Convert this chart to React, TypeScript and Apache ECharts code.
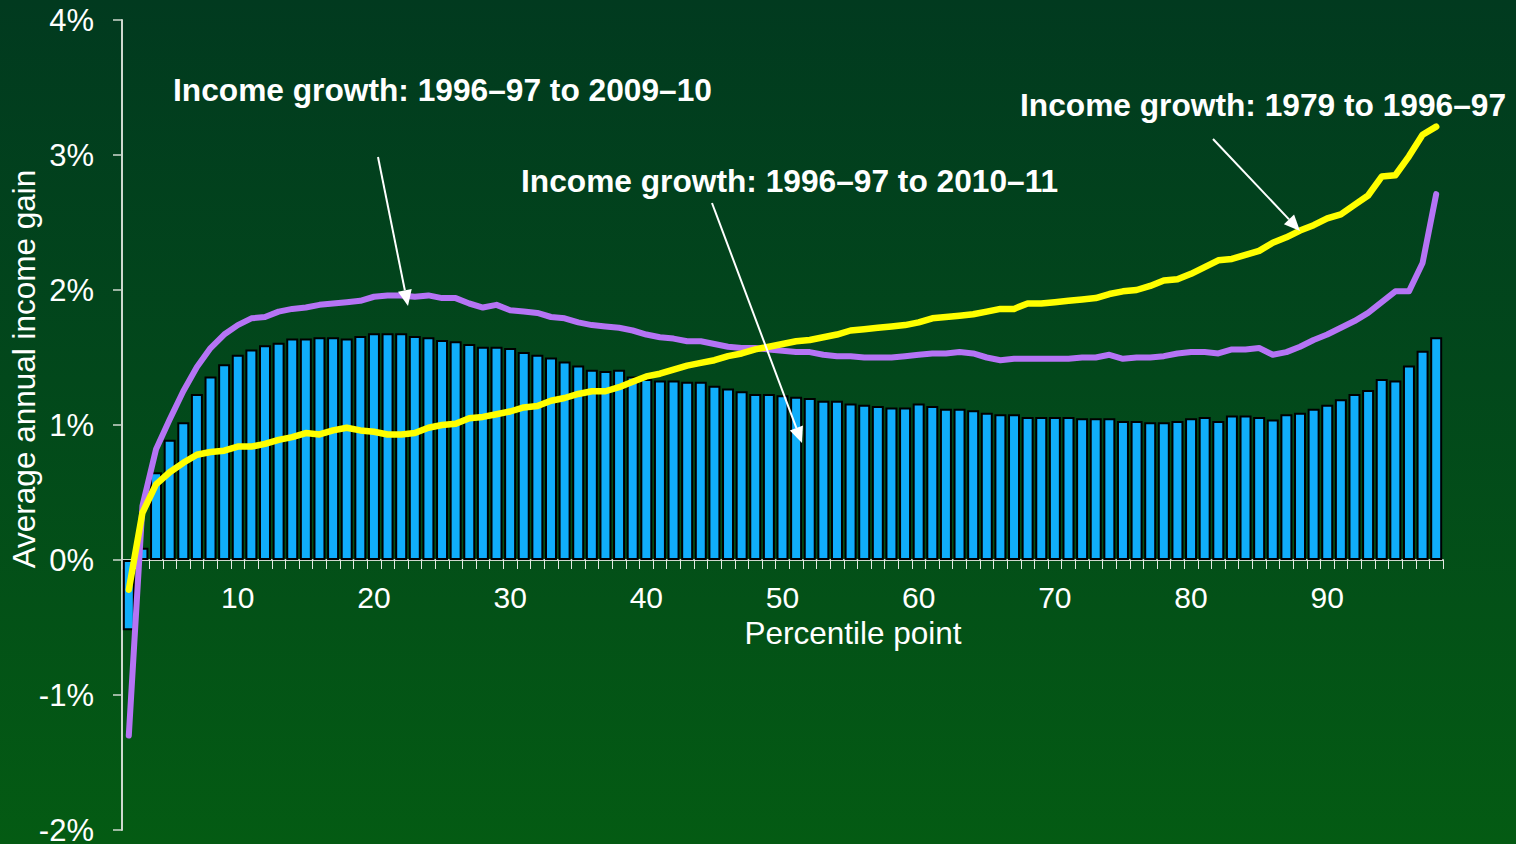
import React, { useEffect, useRef } from "react";
import * as echarts from "echarts";

const percentiles: string[] = [
  "2", "3", "4", "5", "6", "7", "8", "9", "10", "11", "12", "13", "14", "15", "16", "17", "18", "19", "20",
  "21", "22", "23", "24", "25", "26", "27", "28", "29", "30", "31", "32", "33", "34", "35", "36", "37", "38", "39", "40",
  "41", "42", "43", "44", "45", "46", "47", "48", "49", "50", "51", "52", "53", "54", "55", "56", "57", "58", "59", "60",
  "61", "62", "63", "64", "65", "66", "67", "68", "69", "70", "71", "72", "73", "74", "75", "76", "77", "78", "79", "80",
  "81", "82", "83", "84", "85", "86", "87", "88", "89", "90", "91", "92", "93", "94", "95", "96", "97", "98",
];

// Income growth: 1996–97 to 2010–11 (bars)
const growth1997to2011: number[] = [
  -0.52, 0.09, 0.65, 0.89, 1.02, 1.23, 1.36, 1.45, 1.52, 1.56, 1.59, 1.61, 1.64, 1.64, 1.65, 1.65, 1.64, 1.66, 1.68,
  1.68, 1.68, 1.66, 1.65, 1.63, 1.62, 1.60, 1.58, 1.58, 1.57, 1.54, 1.52, 1.50, 1.47, 1.44, 1.41, 1.40, 1.41, 1.36, 1.34,
  1.33, 1.33, 1.32, 1.32, 1.29, 1.27, 1.25, 1.23, 1.23, 1.22, 1.21, 1.20, 1.18, 1.18, 1.16, 1.15, 1.14, 1.13, 1.13, 1.16,
  1.14, 1.12, 1.12, 1.11, 1.09, 1.08, 1.08, 1.06, 1.06, 1.06, 1.06, 1.05, 1.05, 1.05, 1.03, 1.03, 1.02, 1.02, 1.03, 1.05,
  1.06, 1.03, 1.07, 1.07, 1.06, 1.04, 1.08, 1.09, 1.12, 1.15, 1.19, 1.23, 1.26, 1.34, 1.33, 1.44, 1.55, 1.65,
];

// Income growth: 1996–97 to 2009–10 (purple line)
const growth1997to2010: number[] = [
  -1.30, 0.40, 0.82, 1.04, 1.25, 1.43, 1.57, 1.67, 1.74, 1.79, 1.80, 1.84, 1.86, 1.87, 1.89, 1.90, 1.91, 1.92, 1.95,
  1.96, 1.96, 1.95, 1.96, 1.94, 1.94, 1.90, 1.87, 1.89, 1.85, 1.84, 1.83, 1.80, 1.79, 1.76, 1.74, 1.73, 1.72, 1.70, 1.67,
  1.65, 1.64, 1.62, 1.62, 1.60, 1.58, 1.57, 1.57, 1.56, 1.55, 1.54, 1.54, 1.52, 1.51, 1.51, 1.50, 1.50, 1.50, 1.51, 1.52,
  1.53, 1.53, 1.54, 1.53, 1.50, 1.48, 1.49, 1.49, 1.49, 1.49, 1.49, 1.50, 1.50, 1.52, 1.49, 1.50, 1.50, 1.51, 1.53, 1.54,
  1.54, 1.53, 1.56, 1.56, 1.57, 1.52, 1.54, 1.58, 1.63, 1.67, 1.72, 1.77, 1.83, 1.91, 1.99, 1.99, 2.20, 2.71,
];

// Income growth: 1979 to 1996–97 (yellow line)
const growth1979to1997: number[] = [
  -0.22, 0.35, 0.56, 0.65, 0.72, 0.78, 0.80, 0.81, 0.84, 0.84, 0.86, 0.89, 0.91, 0.94, 0.93, 0.96, 0.98, 0.96, 0.95,
  0.93, 0.93, 0.94, 0.98, 1.00, 1.01, 1.05, 1.06, 1.08, 1.10, 1.13, 1.14, 1.18, 1.20, 1.23, 1.25, 1.25, 1.28, 1.32, 1.36,
  1.38, 1.41, 1.44, 1.46, 1.48, 1.51, 1.53, 1.56, 1.58, 1.60, 1.62, 1.63, 1.65, 1.67, 1.70, 1.71, 1.72, 1.73, 1.74, 1.76,
  1.79, 1.80, 1.81, 1.82, 1.84, 1.86, 1.86, 1.90, 1.90, 1.91, 1.92, 1.93, 1.94, 1.97, 1.99, 2.00, 2.03, 2.07, 2.08, 2.12,
  2.17, 2.22, 2.23, 2.26, 2.29, 2.35, 2.39, 2.44, 2.48, 2.53, 2.56, 2.63, 2.70, 2.84, 2.85, 2.99, 3.15, 3.21,
];

const Y_MIN = -2;
const Y_MAX = 4;

const FONT = '"Liberation Sans", Arial, Helvetica, sans-serif';

const GRID_TOP = 20;
const GRID_BOTTOM = 14;
const CHART_H = 844;

function arrow(x1: number, y1: number, x2: number, y2: number): any[] {
  const dx = x2 - x1;
  const dy = y2 - y1;
  const len = Math.sqrt(dx * dx + dy * dy);
  const ux = dx / len;
  const uy = dy / len;
  const L = 16;
  const W = 7;
  const bx = x2 - ux * L;
  const by = y2 - uy * L;
  const nx = -uy;
  const ny = ux;
  return [
    {
      type: "line",
      shape: { x1, y1, x2: bx, y2: by },
      style: { stroke: "#ffffff", lineWidth: 2 },
      z: 100,
    },
    {
      type: "polygon",
      shape: {
        points: [
          [x2, y2],
          [bx + nx * W, by + ny * W],
          [bx - nx * W, by - ny * W],
        ],
      },
      style: { fill: "#ffffff" },
      z: 100,
    },
  ];
}

function label(
  text: string,
  x: number,
  y: number,
  bold: boolean,
  rotation = 0,
  align = "left",
  lineHeight?: number
): any {
  return {
    type: "text",
    x,
    y,
    rotation,
    z: 100,
    style: {
      text,
      fill: "#ffffff",
      font: `${bold ? "bold " : ""}${bold ? 31.7 : 31.5}px ${FONT}`,
      textAlign: align,
      textVerticalAlign: "middle",
      align,
      verticalAlign: "middle",
      ...(lineHeight ? { lineHeight } : {}),
    },
  };
}

export default function App() {
  const ref = useRef<HTMLDivElement>(null);

  useEffect(() => {
    if (!ref.current) return;
    const chart = echarts.init(ref.current, undefined, { renderer: "svg" });
    const axisColor = "#cfd8cf";
    const plotH = CHART_H - GRID_TOP - GRID_BOTTOM;
    // shift the category axis from the grid bottom up to the zero line
    const zeroOffset = -plotH * (0 - Y_MIN) / (Y_MAX - Y_MIN);
    chart.setOption({
      animation: false,
      backgroundColor: "transparent",
      grid: {
        left: 122,
        right: 73,
        top: GRID_TOP,
        bottom: GRID_BOTTOM,
        containLabel: false,
        outerBoundsMode: "none",
      },
      xAxis: {
        type: "category",
        data: percentiles,
        boundaryGap: true,
        position: "bottom",
        offset: zeroOffset,
        axisLine: { onZero: false, lineStyle: { color: axisColor, width: 2 } },
        axisTick: { show: true, interval: 0, length: 9, lineStyle: { color: "#e4eae4", width: 1 } },
        axisLabel: {
          interval: (_idx: number, val: string) => Number(val) % 10 === 0,
          color: "#ffffff",
          fontSize: 30,
          lineHeight: 24,
          fontFamily: FONT,
          margin: 25,
        },
        splitLine: { show: false },
      },
      yAxis: {
        type: "value",
        min: Y_MIN,
        max: Y_MAX,
        interval: 1,
        axisLine: { show: true, lineStyle: { color: axisColor, width: 2 } },
        axisTick: { show: true, length: 9, lineStyle: { color: axisColor, width: 1.5 } },
        axisLabel: {
          formatter: (v: number) => `${v}%`,
          color: "#ffffff",
          fontSize: 31,
          fontFamily: FONT,
          margin: 28,
        },
        splitLine: { show: false },
      },
      series: [
        {
          name: "Income growth: 1996–97 to 2010–11",
          type: "bar",
          data: growth1997to2011,
          barCategoryGap: "12%",
          itemStyle: { color: "#10adfb", borderColor: "#000000", borderWidth: 2 },
          z: 2,
        },
        {
          name: "Income growth: 1996–97 to 2009–10",
          type: "line",
          data: growth1997to2010,
          symbol: "none",
          lineStyle: { color: "#b574f5", width: 6, cap: "round", join: "round" },
          z: 3,
        },
        {
          name: "Income growth: 1979 to 1996–97",
          type: "line",
          data: growth1979to1997,
          symbol: "none",
          lineStyle: { color: "#ffff00", width: 6.5, cap: "round", join: "round" },
          z: 4,
        },
      ],
      graphic: {
        elements: [
          label("Income growth: 1996–97 to 2009–10", 173, 90, true),
          label("Income growth: 1996–97 to 2010–11", 521, 181, true),
          label("Income growth: 1979 to 1996–97", 1020, 105, true),
          label("Average annual income gain", 24, 369, false, Math.PI / 2, "center"),
          label("Percentile point", 853, 633, false, 0, "center", 26),
          ...arrow(378, 157, 408, 306),
          ...arrow(712, 203, 802, 443),
          ...arrow(1213, 139, 1300, 231),
        ],
      },
    });
    return () => chart.dispose();
  }, []);

  return (
    <div
      ref={ref}
      style={{
        position: "fixed",
        left: 0,
        top: 0,
        width: 1516,
        height: CHART_H,
        background: "linear-gradient(to bottom, #013a1f 0%, #02481b 45%, #045b13 100%)",
      }}
    />
  );
}
